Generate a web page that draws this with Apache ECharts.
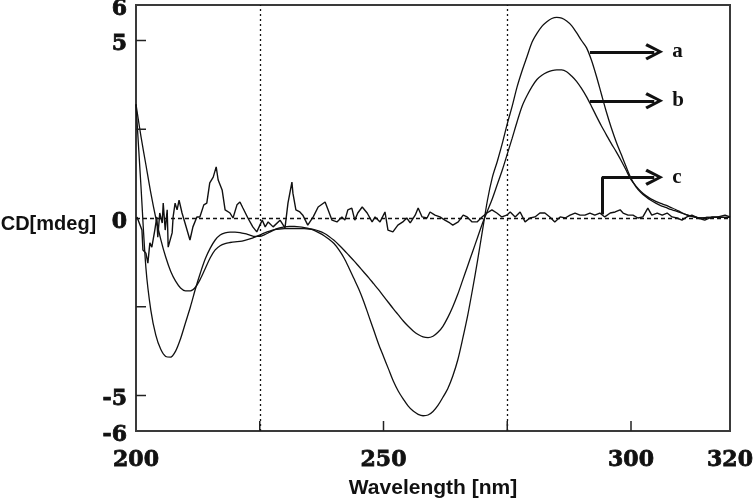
<!DOCTYPE html>
<html><head><meta charset="utf-8">
<script src="https://cdn.jsdelivr.net/npm/echarts@6/dist/echarts.min.js"></script>
<style>html,body{margin:0;padding:0;background:#fff}#chart{width:755px;height:498px}</style>
</head><body><div id="chart"></div>
<script>
const waveAB = [200,201,202,203,204,205,206,207,208,209,210,211,212,213,214,215,216,217,218,219,
220,221,222,223,224,225,226,227,228,229,230,231,232,233,234,235,236,237,238,239,
240,241,242,243,244,245,246,247,248,249,250,251,252,253,254,255,256,257,258,259,
260,261,262,263,264,265,266,267,268,269,270,271,272,273,274,275,276,277,278,279,
280,281,282,283,284,285,286,287,288,289,290,291,292,293,294,295,296,297,298,299,
300,301,302,303,304,305,306,307,308,309,310,311,312,313,314,315,316,317,318,319,320];
const aCD = [3.2,0.9,-1.4,-2.6,-3.3,-3.7,-3.9,-3.92,-3.75,-3.4,
-2.95,-2.5,-2.0,-1.55,-1.15,-0.85,-0.62,-0.48,-0.42,-0.4,
-0.4,-0.41,-0.44,-0.48,-0.52,-0.52,-0.47,-0.4,-0.33,-0.28,
-0.25,-0.24,-0.24,-0.25,-0.27,-0.3,-0.35,-0.42,-0.5,-0.6,
-0.72,-0.9,-1.12,-1.4,-1.7,-2.0,-2.35,-2.75,-3.15,-3.55,
-3.9,-4.25,-4.6,-4.88,-5.1,-5.3,-5.44,-5.53,-5.57,-5.55,
-5.45,-5.28,-5.05,-4.8,-4.45,-4.0,-3.4,-2.75,-2.0,-1.2,
-0.35,0.5,1.15,1.6,2.1,2.65,3.15,3.7,4.15,4.55,
4.95,5.2,5.4,5.53,5.62,5.65,5.63,5.55,5.42,5.22,
5.0,4.8,4.45,4.0,3.5,3.0,2.55,2.15,1.8,1.45,
1.12,0.88,0.72,0.6,0.5,0.42,0.35,0.3,0.24,0.2,
0.15,0.1,0.06,0.03,0.0,0.01,0.02,0.02,0.03,0.02,0.02];
const bCD = [3.2,2.3,1.5,0.7,0.0,-0.6,-1.1,-1.5,-1.78,-1.97,
-2.05,-2.05,-1.95,-1.72,-1.42,-1.12,-0.9,-0.78,-0.72,-0.69,
-0.67,-0.66,-0.63,-0.59,-0.54,-0.48,-0.42,-0.37,-0.33,-0.31,
-0.3,-0.3,-0.3,-0.3,-0.3,-0.31,-0.33,-0.37,-0.43,-0.52,
-0.63,-0.76,-0.9,-1.05,-1.2,-1.36,-1.52,-1.68,-1.85,-2.02,
-2.2,-2.38,-2.56,-2.73,-2.9,-3.05,-3.18,-3.28,-3.35,-3.37,
-3.33,-3.22,-3.05,-2.8,-2.5,-2.15,-1.75,-1.35,-0.95,-0.55,
-0.15,0.2,0.55,0.95,1.35,1.8,2.25,2.72,3.15,3.45,
3.7,3.9,4.02,4.1,4.15,4.17,4.17,4.12,4.0,3.85,
3.65,3.42,3.15,2.87,2.6,2.35,2.1,1.87,1.62,1.35,
1.08,0.9,0.75,0.63,0.54,0.47,0.41,0.36,0.3,0.24,
0.17,0.1,0.05,0.02,0.0,0.01,0.02,0.02,0.02,0.02,0.02];
const cWave = [200.2,201.2,201.4,202.0,202.4,202.8,203.2,203.8,204.2,204.4,
204.8,205.3,205.5,205.9,206.3,206.5,206.9,207.3,207.5,207.9,
208.3,208.7,209.3,209.9,210.9,211.5,212.3,212.9,213.7,214.3,
214.9,215.6,216.2,216.6,217.4,218.0,219.0,219.6,220.4,221.0,
221.6,222.6,223.6,224.4,225.5,226.1,226.7,227.7,229.1,230.1,
230.7,231.5,231.7,232.3,233.1,233.7,234.7,235.8,236.8,238.2,
238.8,239.6,240.6,241.6,242.2,242.8,243.6,244.2,244.8,245.7,
246.7,247.7,248.3,249.3,250.3,250.9,251.9,252.9,253.9,254.7,
255.4,256.4,257.0,257.8,258.8,259.4,260.4,261.4,262.4,263.4,
264.0,265.1,266.1,266.9,267.9,268.9,269.9,270.9,271.9,272.9,
273.9,274.9,275.6,276.6,277.6,278.6,279.6,280.6,281.6,282.6,
283.6,284.6,285.7,286.7,287.7,288.7,289.7,290.7,291.7,292.7,
293.7,294.7,295.8,296.8,297.8,298.4,299.4,300.4,301.4,302.4,
303.4,304.2,305.3,306.3,307.3,308.3,309.3,310.3,311.3,312.3,
313.5,314.9,316.4,317.6,319.0,320.0];
const cCD = [0.03,-0.34,-0.9,-0.99,-1.27,-0.7,-0.82,-0.34,0.03,-0.54,
0.14,-0.14,0.42,-0.34,0.23,-0.82,-0.85,-0.42,0.03,0.42,
0.23,0.5,0.14,-0.14,-0.62,-0.25,0.03,0.03,0.37,0.42,
0.99,1.15,1.44,1.07,0.79,0.23,0.14,0.0,0.37,0.45,
0.28,0.0,-0.25,-0.39,-0.06,-0.25,-0.11,-0.25,-0.06,-0.28,
0.42,1.01,0.7,0.23,0.17,0.08,-0.2,0.03,0.31,0.45,
0.23,-0.06,-0.11,0.03,-0.06,0.23,0.28,-0.06,0.14,0.31,
0.14,-0.11,0.03,-0.11,0.17,-0.34,-0.39,-0.2,-0.11,0.0,
-0.14,0.08,0.28,0.03,0.0,0.17,0.08,0.03,-0.06,-0.14,
-0.2,-0.11,0.08,0.03,-0.11,-0.11,0.03,0.14,0.23,0.14,
0.03,0.08,0.17,0.03,0.17,-0.11,0.0,0.03,0.14,0.14,
0.03,-0.11,0.03,0.0,0.08,0.14,0.08,0.08,0.14,0.08,
0.14,0.03,0.14,0.17,0.23,0.14,0.08,0.08,0.0,0.03,
0.28,0.08,0.14,0.08,0.14,0.03,0.0,-0.06,0.03,0.08,
0.0,-0.06,0.03,0.03,0.08,0.03];
const xMin = 200, xMax = 320, yMin = -6, yMax = 6;
const xLabelValues = [200, 250, 300, 320];
const xTickValues = [225, 250, 275, 300];
const yLabelValues = [-6, -5, 0, 5, 6];
const yTickValues = [-5, -2.5, 2.5, 5];
const refX = [225, 275];
const refY = [0];

const zip = (xs, ys) => xs.map((x, i) => [x, ys[i]]);
const ink = '#111';
const chevron = 'path://M0,15 L8.5,0 L17,15 L14.3,16.6 L8.5,5.6 L2.7,16.6 Z';
const tickFont = {fontFamily: 'DejaVu Serif', fontWeight: 'bold', fontSize: 22, color: ink,
  textBorderColor: ink, textBorderWidth: 0.8};
const letterLabel = (t) => ({show: true, position: 'end', formatter: t, distance: 18,
  fontFamily: 'Liberation Serif', fontWeight: 'bold', fontSize: 21, color: ink});

// inward axis ticks, positioned through the axes' own scales
const tickSeries = (points, dx, dy) => ({
  type: 'custom', silent: true, clip: false, z: 6,
  data: points,
  renderItem: (params, api) => {
    const p = api.coord([api.value(0), api.value(1)]);
    return {type: 'line', shape: {x1: p[0], y1: p[1], x2: p[0] + dx, y2: p[1] + dy},
      style: {stroke: '#222', lineWidth: 1.5}};
  }
});

const chart = echarts.init(document.getElementById('chart'), null, {renderer: 'canvas'});
chart.setOption({
  animation: false,
  backgroundColor: '#fff',
  grid: {left: 136, right: 25, top: 5, bottom: 67, show: true, borderColor: '#3a3a3a', borderWidth: 2,
    outerBoundsMode: 'none', containLabel: false},
  xAxis: {
    type: 'value', min: xMin, max: xMax,
    name: 'Wavelength [nm]', nameLocation: 'middle', nameGap: 47,
    nameTextStyle: {fontFamily: 'Liberation Sans', fontWeight: 'bold', fontSize: 21, color: ink},
    axisLine: {show: false},
    axisTick: {show: false},
    axisLabel: Object.assign({customValues: xLabelValues, margin: 18,
      alignMinLabel: 'center', alignMaxLabel: 'center'}, tickFont),
    splitLine: {show: false}
  },
  yAxis: {
    type: 'value', min: yMin, max: yMax,
    name: 'CD[mdeg]', nameLocation: 'middle', nameRotate: 0, nameGap: 39,
    nameTextStyle: {fontFamily: 'Liberation Sans', fontWeight: 'bold', fontSize: 20, color: ink,
      verticalAlign: 'top', lineHeight: 12},
    axisLine: {show: false},
    axisTick: {show: false},
    axisLabel: Object.assign({customValues: yLabelValues, margin: 9, lineHeight: 8,
      verticalAlign: 'top', verticalAlignMinLabel: 'top', verticalAlignMaxLabel: 'top'}, tickFont),
    splitLine: {show: false}
  },
  series: [
    {
      name: 'a', type: 'line', data: zip(waveAB, aCD), smooth: 0.3, showSymbol: false,
      lineStyle: {color: ink, width: 1.3}, z: 3,
      markLine: {
        silent: true, symbol: 'none', animation: false,
        lineStyle: {color: ink, width: 3, type: 'solid'},
        data: [
          ...refX.map(v => ({xAxis: v, lineStyle: {type: [2, 3], color: ink, width: 1.3}, label: {show: false}})),
          ...refY.map(v => ({yAxis: v, lineStyle: {type: [4, 3], color: ink, width: 1.3}, label: {show: false}})),
          [{coord: [291.7, 4.68], symbol: 'none'},
           {coord: [304.7, 4.68], symbol: chevron, symbolSize: [17, 18], label: letterLabel('a')}]
        ]
      }
    },
    {
      name: 'b', type: 'line', data: zip(waveAB, bCD), smooth: 0.3, showSymbol: false,
      lineStyle: {color: ink, width: 1.3}, z: 3,
      markLine: {
        silent: true, symbol: 'none', animation: false,
        lineStyle: {color: ink, width: 3, type: 'solid'},
        data: [
          [{coord: [291.7, 3.3], symbol: 'none'},
           {coord: [304.7, 3.3], symbol: chevron, symbolSize: [17, 18], label: letterLabel('b')}]
        ]
      }
    },
    {
      name: 'c', type: 'line', data: zip(cWave, cCD), showSymbol: false,
      lineStyle: {color: ink, width: 1.4}, z: 3,
      markLine: {
        silent: true, symbol: 'none', animation: false,
        lineStyle: {color: ink, width: 3, type: 'solid'},
        data: [
          [{coord: [294.1, 0.1], symbol: 'none'}, {coord: [294.1, 1.15], symbol: 'none', label: {show: false}}],
          [{coord: [294.1, 1.15], symbol: 'none'},
           {coord: [304.7, 1.15], symbol: chevron, symbolSize: [17, 18], label: letterLabel('c')}]
        ]
      }
    },
    tickSeries(yTickValues.map(v => [xMin, v]), 10, 0),
    tickSeries(xTickValues.map(v => [v, yMin]), 0, -10)
  ]
});
</script>
</body></html>
